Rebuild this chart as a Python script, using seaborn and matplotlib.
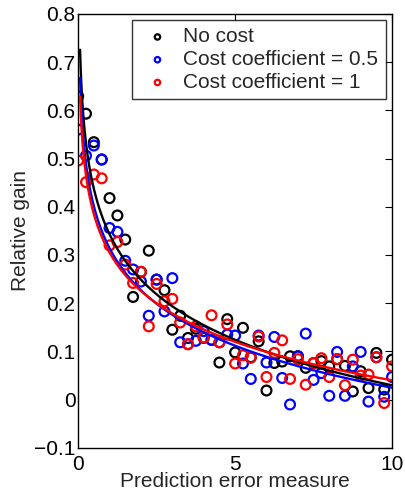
import numpy as np
import pandas as pd
import matplotlib
matplotlib.use("Agg")
import matplotlib.pyplot as plt
import seaborn as sns

# ---- data ----
x_vals = [0, 0.25, 0.5, 0.75, 1.0, 1.25, 1.5, 1.75, 2.0, 2.25, 2.5, 2.75, 3.0, 3.25, 3.5,
          3.75, 4.0, 4.25, 4.5, 4.75, 5.0, 5.25, 5.5, 5.75, 6.0, 6.25, 6.5, 6.75, 7.0,
          7.25, 7.5, 7.75, 8.0, 8.25, 8.5, 8.75, 9.0, 9.25, 9.5, 9.75, 10.0]

no_cost = [0.629, 0.593, 0.534, 0.498, 0.418, 0.382, 0.332, 0.213, 0.265, 0.309, 0.249, 0.227,
           0.145, 0.174, 0.128, 0.147, 0.128, 0.124, 0.077, 0.167, 0.098, 0.149, 0.088, 0.121,
           0.019, 0.076, 0.079, 0.09, 0.09, 0.066, 0.076, 0.08, 0.069, 0.084, 0.07, 0.017,
           0.059, 0.024, 0.097, 0.021, 0.083]

cost_05 = [0.56, 0.506, 0.527, 0.498, 0.356, 0.348, 0.288, 0.270, 0.245, 0.174, 0.249, 0.183,
           0.252, 0.119, 0.115, 0.122, 0.142, 0.124, 0.119, 0.135, 0.133, 0.075, 0.043, 0.133,
           0.077, 0.13, 0.045, -0.01, 0.09, 0.137, 0.041, 0.055, 0.008, 0.099, 0.008, 0.069,
           0.099, -0.004, 0.088, 0.006, 0.047]

cost_1 = [0.496, 0.451, 0.467, 0.459, 0.32, 0.327, 0.28, 0.242, 0.265, 0.152, 0.24, 0.204,
          0.209, 0.16, 0.115, 0.152, 0.129, 0.175, 0.119, 0.156, 0.075, 0.092, 0.087, 0.131,
          0.047, 0.097, 0.123, 0.043, 0.084, 0.031, 0.076, 0.086, 0.047, 0.084, 0.03, 0.083,
          0.05, 0.052, 0.088, -0.007, 0.069]

series_names = ["No cost", "Cost coefficient = 0.5", "Cost coefficient = 1"]
series_values = [no_cost, cost_05, cost_1]
series_colors = ["black", "blue", "red"]

# logarithmic fit: y = a - b*ln(x)
fit_a = [0.343, 0.314, 0.305]
fit_b = [0.136, 0.1256, 0.115]
fit_xmin = 0.06

x_ticks = [0, 5, 10]
y_ticks = [-0.1, 0, 0.1, 0.2, 0.3, 0.4, 0.5, 0.6, 0.7, 0.8]
y_tick_labels = ["\u22120.1", "0", "0.1", "0.2", "0.3", "0.4", "0.5", "0.6", "0.7", "0.8"]

# ---- plotting ----
sns.set_style("white")
plt.rcParams["font.family"] = ["Liberation Sans", "DejaVu Sans"]
FS = 15

fig = plt.figure(figsize=(4.05, 4.96), dpi=100)
ax = fig.add_axes([0.193, 0.097, 0.775, 0.875])

frames = []
for name, vals in zip(series_names, series_values):
    frames.append(pd.DataFrame({"x": x_vals, "y": vals, "series": name}))
df = pd.concat(frames, ignore_index=True)
palette = dict(zip(series_names, series_colors))

xf = np.linspace(fit_xmin, 10, 400)
fit_frames = []
for name, a, b in zip(series_names, fit_a, fit_b):
    fit_frames.append(pd.DataFrame({"x": xf, "y": a - b * np.log(xf), "series": name}))
fdf = pd.concat(fit_frames, ignore_index=True)

for name in series_names:
    sub = df[df.series == name]
    sns.scatterplot(data=sub, x="x", y="y", ax=ax, marker="o", s=50,
                    facecolors="none", edgecolor=palette[name], linewidth=1.6,
                    label=name, zorder=2)

for name in series_names:
    sub = fdf[fdf.series == name]
    sns.lineplot(data=sub, x="x", y="y", ax=ax, color=palette[name], linewidth=1.7,
                 legend=False, zorder=3)

ax.set_xlim(0, 10)
ax.set_ylim(-0.1, 0.8)
ax.set_xticks(x_ticks)
ax.set_yticks(y_ticks)
ax.set_yticklabels(y_tick_labels)
ax.tick_params(direction="in", length=5, width=0.8, top=True, right=True,
               labelsize=FS, colors="black")
ax.tick_params(axis="y", pad=2)
ax.tick_params(axis="x", pad=5)
for sp in ax.spines.values():
    sp.set_color("black")
    sp.set_linewidth(1.0)
ax.set_xlabel("Prediction error measure", fontsize=FS, labelpad=-1)
ax.set_ylabel("Relative gain", fontsize=FS, labelpad=3)

leg = ax.legend(loc="upper right", frameon=True, fancybox=False, fontsize=FS,
                borderpad=0.35, handletextpad=0.4, handlelength=1.7,
                labelspacing=0.18, borderaxespad=0.3, markerscale=0.55)
leg.get_frame().set_edgecolor("black")
leg.get_frame().set_linewidth(1.0)
for h in leg.legend_handles:
    h.set_facecolor("none")
    h.set_linewidth(1.6)

fig.savefig("out.png", dpi=100)
